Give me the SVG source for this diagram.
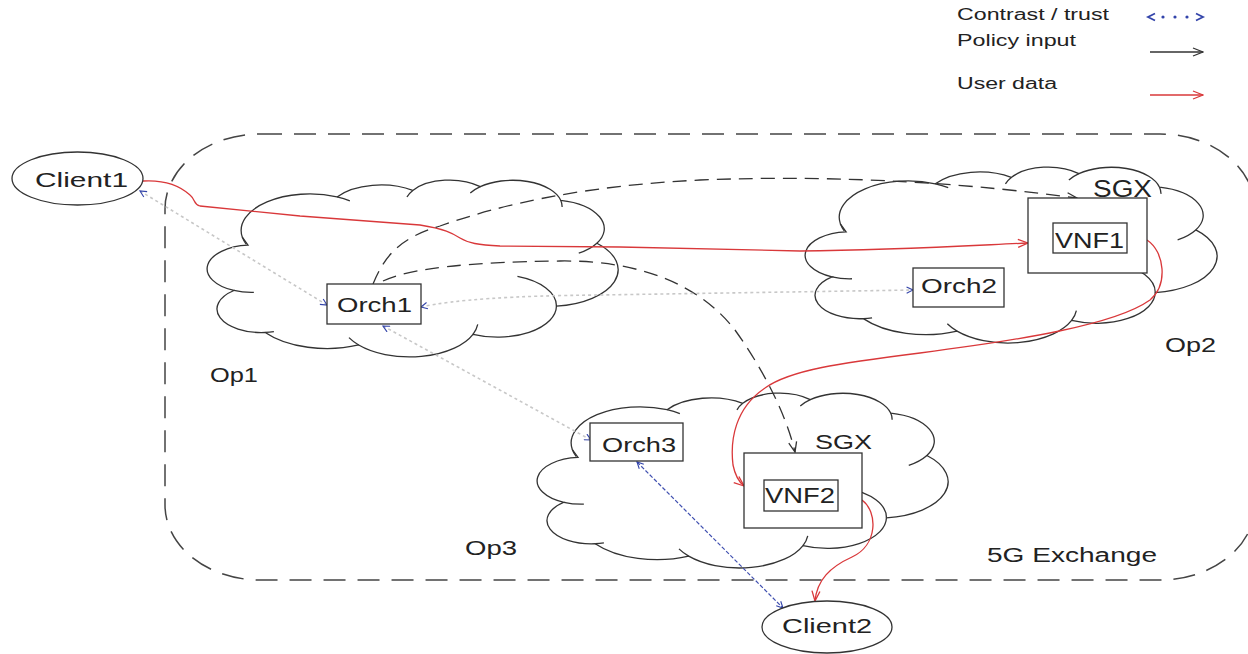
<svg xmlns="http://www.w3.org/2000/svg" width="1248" height="654" viewBox="0 0 1248 654">
<style>
 .t{font-family:"Liberation Sans",Arial,sans-serif;fill:#222;}
 .box{fill:#fff;stroke:#333;stroke-width:1.3;}
 .cl{fill:none;stroke:#333;stroke-width:1.3;}
 .red{fill:none;stroke:#d9383a;stroke-width:1.3;}
 .pol{fill:none;stroke:#333;stroke-width:1.3;stroke-dasharray:14 8;}
 .tr{fill:none;stroke:#c8c8c8;stroke-width:1.6;stroke-dasharray:3 3;}
 .trb{fill:none;stroke:#4050b0;stroke-width:1.2;stroke-dasharray:4 2;}
 .ex{fill:none;stroke:#444;stroke-width:1.5;stroke-dasharray:22 12;}
 .ell{fill:#fff;stroke:#333;stroke-width:1.3;}
</style>
<defs>
 <path id="cloudShape" vector-effect="non-scaling-stroke" d="M9.03,33.26 A15.63,21.27 0 0 1 30.58,9.85 A12.34,16.82 0 0 1 47.81,6.08 A10.10,13.76 0 0 1 63.17,3.90 A11.24,15.27 0 0 1 81.46,11.80 A12.34,16.84 0 0 1 89.69,36.81 A15.68,21.34 0 0 1 80.49,73.45 A13.39,18.21 0 0 1 61.51,89.80 A15.63,21.33 0 0 1 35.51,96.03 A17.87,24.41 0 0 1 14.24,88.73 A10.09,13.70 0 0 1 7.13,64.31 A10.06,13.76 0 0 1 10.33,37.94 Z"/>
 <path id="cloudHooks" vector-effect="non-scaling-stroke" d="M11.66,65.40 A10.06,13.76 0 0 1 7.13,64.31 M16.22,88.22 A10.09,13.70 0 0 1 14.24,88.73 M35.51,96.03 A15.63,21.33 0 0 1 33.30,91.76 M62.59,84.05 A15.63,21.33 0 0 1 61.51,89.80 M71.62,56.11 A13.39,18.21 0 0 1 80.49,73.45 M89.69,36.81 A12.34,16.84 0 0 1 85.57,42.60 M81.46,11.80 A11.24,15.27 0 0 1 81.78,15.73 M60.89,7.61 A11.24,15.27 0 0 1 63.17,3.90 M46.49,9.90 A10.10,13.76 0 0 1 47.81,6.08 M30.58,9.85 A15.63,21.27 0 0 1 33.50,12.10 M9.94,37.48 A15.63,21.27 0 0 1 9.03,33.26"/>
 <marker id="mRed" viewBox="0 0 12 10" refX="11" refY="5" markerWidth="12" markerHeight="10" markerUnits="userSpaceOnUse" orient="auto"><path d="M1,1 L11,5 L1,9" fill="none" stroke="#d9383a" stroke-width="1.3"/></marker>
 <marker id="mBlk" viewBox="0 0 12 10" refX="11" refY="5" markerWidth="12" markerHeight="10" markerUnits="userSpaceOnUse" orient="auto"><path d="M1,1 L11,5 L1,9" fill="none" stroke="#333" stroke-width="1.3"/></marker>
 <marker id="mBlu" viewBox="0 0 10 10" refX="9" refY="5" markerWidth="8" markerHeight="8" markerUnits="userSpaceOnUse" orient="auto-start-reverse"><path d="M1,1 L9,5 L1,9" fill="none" stroke="#3344aa" stroke-width="1.4"/></marker>
</defs>
<rect width="1248" height="654" fill="#fff"/>

<g id="legend">
 <text class="t" x="957" y="20" font-size="16" textLength="152" lengthAdjust="spacingAndGlyphs">Contrast / trust</text>
 <text class="t" x="957" y="46" font-size="16" textLength="119" lengthAdjust="spacingAndGlyphs">Policy input</text>
 <text class="t" x="957" y="89" font-size="16" textLength="100" lengthAdjust="spacingAndGlyphs">User data</text>
 <polyline points="1155,13.5 1148,17 1155,20.5" fill="none" stroke="#3344aa" stroke-width="1.8"/>
 <circle cx="1163" cy="17" r="1.6" fill="#3344aa"/>
 <circle cx="1175" cy="17" r="1.6" fill="#3344aa"/>
 <circle cx="1187" cy="17" r="1.6" fill="#3344aa"/>
 <polyline points="1196,13.5 1203,17 1196,20.5" fill="none" stroke="#3344aa" stroke-width="1.8"/>
 <line x1="1150" y1="52" x2="1203" y2="52" stroke="#333" stroke-width="1.3" marker-end="url(#mBlk)"/>
 <line x1="1150" y1="95" x2="1203" y2="95" stroke="#d9383a" stroke-width="1.3" marker-end="url(#mRed)"/>
</g>

<g id="exchange">
 <rect class="ex" x="165" y="134" width="1090" height="446" rx="95" ry="75"/>
 <text class="t" x="987" y="562" font-size="20" textLength="170" lengthAdjust="spacingAndGlyphs">5G Exchange</text>
</g>

<g id="op1">
 <g class="cl" transform="translate(202.6,180) scale(4.396,1.718)"><use href="#cloudShape"/><use href="#cloudHooks"/></g>
 <text class="t" x="210" y="382" font-size="20" textLength="48" lengthAdjust="spacingAndGlyphs">Op1</text>
</g>
<g id="op2">
 <g class="cl" transform="translate(800.6,167) scale(4.406,1.709)"><use href="#cloudShape"/><use href="#cloudHooks"/></g>
 <text class="t" x="1165" y="352" font-size="20" textLength="51" lengthAdjust="spacingAndGlyphs">Op2</text>
</g>
<g id="op3">
 <g class="cl" transform="translate(532.6,393) scale(4.396,1.699)"><use href="#cloudShape"/><use href="#cloudHooks"/></g>
 <text class="t" x="465" y="555" font-size="20" textLength="52" lengthAdjust="spacingAndGlyphs">Op3</text>
</g>

<g id="connectors">
 <path class="red" d="M143,181 C160,180 178,184 190,195 C196,200 193,204 200,206 L300,216 L420,225 C445,229 452,233 460,238 C468,243 478,245 500,246 L620,247 L800,251 C900,250 980,245 1028,243" marker-end="url(#mRed)"/>
 <path class="red" d="M1147,240 C1165,252 1168,285 1150,300 C1115,325 1020,340 920,353 C840,363 790,370 765,388 C735,408 730,440 733,465 C735,475 738,481 744,486" marker-end="url(#mRed)"/>
 <path class="red" d="M862,500 C878,512 878,545 852,557 C830,567 817,580 815,601" marker-end="url(#mRed)"/>
 <path class="pol" d="M373,284 C385,255 400,238 440,226 C500,205 580,186 700,180 C850,174 980,185 1077,198" marker-end="url(#mBlk)"/>
 <path class="pol" d="M383,281 C410,268 470,262 560,261 C640,260 700,285 735,330 C760,365 785,410 795,452" marker-end="url(#mBlk)"/>
 <path class="tr" d="M140,191 L327,305" marker-start="url(#mBlu)" marker-end="url(#mBlu)"/>
 <path class="tr" d="M421,307 Q470,296 600,295 L913,290" marker-start="url(#mBlu)" marker-end="url(#mBlu)"/>
 <path class="tr" d="M383,326 L591,440" marker-start="url(#mBlu)" marker-end="url(#mBlu)"/>
 <path class="trb" d="M637,462 L783,608" marker-start="url(#mBlu)" marker-end="url(#mBlu)"/>
</g>

<g id="client1">
 <ellipse class="ell" cx="77.5" cy="178.5" rx="65.5" ry="26.5"/>
 <text class="t" x="35" y="187" font-size="21" textLength="93" lengthAdjust="spacingAndGlyphs">Client1</text>
</g>
<g id="client2">
 <ellipse class="ell" cx="827" cy="627" rx="65" ry="26"/>
 <text class="t" x="782" y="633" font-size="21" textLength="90" lengthAdjust="spacingAndGlyphs">Client2</text>
</g>
<g id="orch1">
 <rect class="box" x="327" y="284" width="94" height="40"/>
 <text class="t" x="337" y="312" font-size="21" textLength="75" lengthAdjust="spacingAndGlyphs">Orch1</text>
</g>
<g id="orch2">
 <rect class="box" x="913" y="268" width="91" height="39"/>
 <text class="t" x="921" y="293" font-size="21" textLength="76" lengthAdjust="spacingAndGlyphs">Orch2</text>
</g>
<g id="orch3">
 <rect class="box" x="590" y="423" width="93" height="38"/>
 <text class="t" x="602" y="452" font-size="21" textLength="74" lengthAdjust="spacingAndGlyphs">Orch3</text>
</g>
<g id="sgx1">
 <text class="t" x="1093" y="197" font-size="23" textLength="59" lengthAdjust="spacingAndGlyphs">SGX</text>
 <rect class="box" x="1028" y="198" width="119" height="75"/>
</g>
<g id="vnf1">
 <rect class="box" x="1053" y="223" width="74" height="30"/>
 <text class="t" x="1055" y="248" font-size="22" textLength="69" lengthAdjust="spacingAndGlyphs">VNF1</text>
</g>
<g id="sgx2">
 <text class="t" x="815" y="449" font-size="20" textLength="57" lengthAdjust="spacingAndGlyphs">SGX</text>
 <rect class="box" x="744" y="453" width="118" height="75"/>
</g>
<g id="vnf2">
 <rect class="box" x="764" y="480" width="74" height="31"/>
 <text class="t" x="765" y="503" font-size="22" textLength="70" lengthAdjust="spacingAndGlyphs">VNF2</text>
</g>
</svg>
